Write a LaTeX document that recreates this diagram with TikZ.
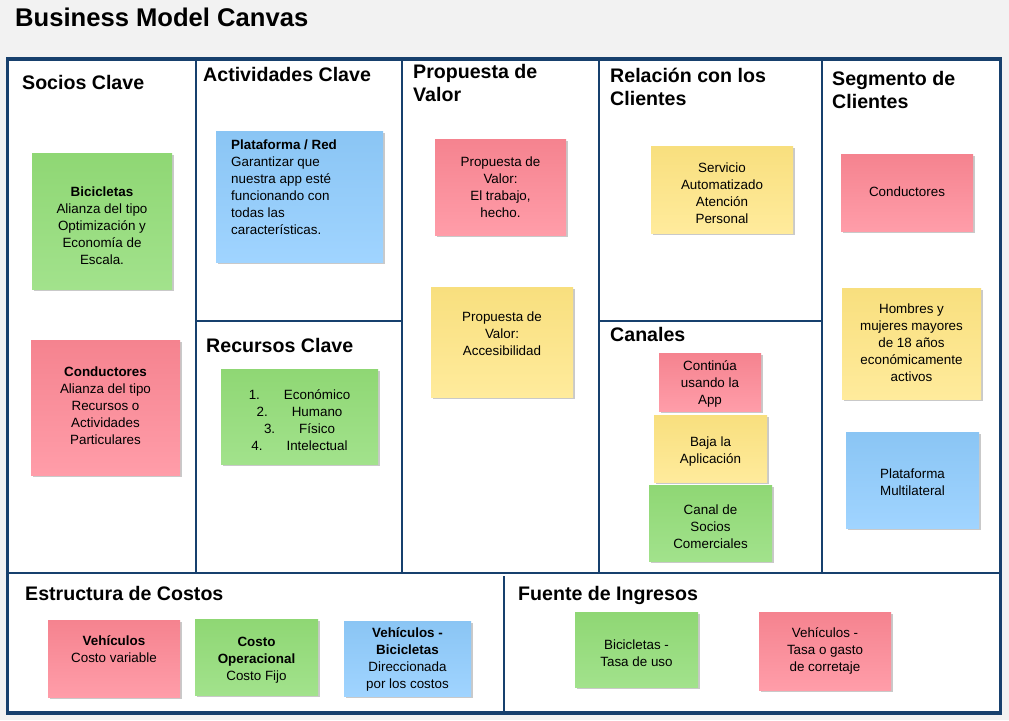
\documentclass[tikz,border=0pt]{standalone}
\usepackage{fontspec}
\setmainfont{Liberation Sans}
\usetikzlibrary{shadows}
\definecolor{bg}{HTML}{F2F2F2}
\definecolor{frame}{HTML}{17406D}
\definecolor{greentop}{HTML}{8FD774}
\definecolor{greenbot}{HTML}{A2E28C}
\definecolor{pinktop}{HTML}{F5838F}
\definecolor{pinkbot}{HTML}{FF9DA9}
\definecolor{bluetop}{HTML}{8AC5F4}
\definecolor{bluebot}{HTML}{A0D4FF}
\definecolor{yellowtop}{HTML}{F8DF7E}
\definecolor{yellowbot}{HTML}{FFEB9C}
\tikzset{
  outerframe/.style={draw=frame, line width=3.6pt},
  innerline/.style={draw=frame, line width=2.2pt},
  title/.style={anchor=base west, inner sep=0pt, font=\fontsize{25.6}{29}\selectfont\bfseries},
  heading/.style={anchor=base west, inner sep=0pt, align=left, font=\fontsize{19.6}{23}\selectfont\bfseries},
  stickynote/.style={rectangle, inner sep=0pt, draw=none,
    drop shadow={shadow xshift=1.5pt, shadow yshift=-2pt, opacity=0.35, fill=black!60}},
  notetext/.style={inner sep=0pt, align=center, font=\fontsize{13.4}{17}\selectfont},
}
\newcommand\stick[8]{%
  \node[stickynote, top color=#2top, bottom color=#2bot,
        minimum width={#5-#3}, minimum height={#6-#4}]
        (#1) at ({(#3+#5)/2},{(#4+#6)/2}) {};
  \node[notetext] (#1t) at ({(#3+#5)/2},#7) {#8};
}
\begin{document}
\begin{tikzpicture}[x=1pt,y=-1pt]
\path[fill=bg] (0,0) rectangle (1009,720);
\useasboundingbox (0,0) rectangle (1009,720);

\node[title] (ttl) at (15,26) {Business Model Canvas};

% frame
\path[fill=white] (7.5,59) rectangle (1000.5,713);
\draw[innerline] (196,59) -- (196,573);
\draw[innerline] (402,59) -- (402,573);
\draw[innerline] (599,59) -- (599,573);
\draw[innerline] (822,59) -- (822,573);
\draw[innerline] (196,321) -- (402,321);
\draw[innerline] (599,321) -- (822,321);
\draw[innerline] (7.5,573) -- (1000.5,573);
\draw[innerline] (504,576) -- (504,713);
\draw[outerframe] (7.5,59) rectangle (1000.5,713);

% headings
\node[heading] (h1) at (22,89) {Socios Clave};
\node[heading] (h2) at (203,81) {Actividades Clave};
\node[heading] (h3) at (413,101) {Propuesta de\\Valor};
\node[heading] (h4) at (610,105) {Relación con los\\Clientes};
\node[heading] (h5) at (832,108) {Segmento de\\Clientes};
\node[heading] (h6) at (206,352) {Recursos Clave};
\node[heading] (h7) at (610,341) {Canales};
\node[heading] (h8) at (25,600) {Estructura de Costos};
\node[heading] (h9) at (518,600) {Fuente de Ingresos};

% sticky notes
\stick{n1}{green}{32}{153}{172}{289}{226}{\textbf{Bicicletas}\\Alianza del tipo\\Optimización y\\Economía de\\Escala.}
\stick{n2}{pink}{31}{340}{180}{475}{406}{\textbf{Conductores}\\Alianza del tipo\\Recursos o\\Actividades\\Particulares}
\node[stickynote, top color=bluetop, bottom color=bluebot, minimum width=167, minimum height=131]
  (n3) at (299.5,196.5) {};
\node[notetext, align=left, anchor=north west] (n3t) at (231,139.5) {\textbf{Plataforma / Red}\\Garantizar que\\nuestra app esté\\funcionando con\\todas las\\características.};
\stick{n4}{green}{221}{369}{378}{464}{420}{1.\hspace{24pt}Económico\\2.\hspace{24pt}Humano\\3.\hspace{24pt}Físico\\4.\hspace{24pt}Intelectual}
\stick{n5}{pink}{435}{139}{566}{235}{187}{Propuesta de\\Valor:\\El trabajo,\\hecho.}
\stick{n6}{yellow}{431}{287}{573}{397}{334}{Propuesta de\\Valor:\\Accesibilidad}
\stick{n7}{yellow}{651}{146}{793}{233}{193}{Servicio\\Automatizado\\Atención\\Personal}
\stick{n8}{pink}{659}{353}{761}{411}{384}{Continúa\\usando la\\App}
\stick{n9}{yellow}{654}{415}{767}{482}{452}{Baja la\\Aplicación}
\stick{n10}{green}{649}{485}{772}{561}{527}{Canal de\\Socios\\Comerciales}
\stick{n11}{pink}{841}{154}{973}{231}{192}{Conductores}
\stick{n12}{yellow}{842}{288}{981}{399}{343}{Hombres y\\mujeres mayores\\de 18 años\\económicamente\\activos}
\stick{n13}{blue}{846}{432}{979}{528}{482}{Plataforma\\Multilateral}
\stick{n14}{pink}{48}{620}{180}{697}{649}{\textbf{Vehículos}\\Costo variable}
\stick{n15}{green}{195}{619}{318}{695}{660}{\textbf{Costo}\\\textbf{Operacional}\\Costo Fijo}
\stick{n16}{blue}{344}{621}{471}{696}{659}{\textbf{Vehículos -}\\\textbf{Bicicletas}\\Direccionada\\por los costos}
\stick{n17}{green}{575}{612}{698}{687}{653}{Bicicletas -\\Tasa de uso}
\stick{n18}{pink}{759}{612}{891}{690}{651}{Vehículos -\\Tasa o gasto\\de corretaje}
\end{tikzpicture}
\end{document}
